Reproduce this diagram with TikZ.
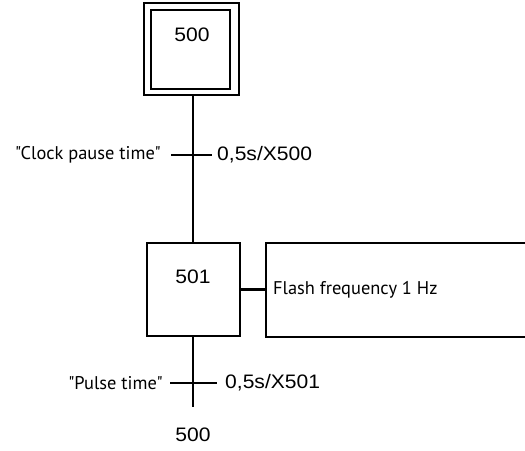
\documentclass[tikz,border=0pt]{standalone}
\usepackage{fontspec}
\setmainfont{Liberation Sans}
\newfontfamily\numfont[FakeStretch=1.08]{Liberation Sans}
\newfontfamily\dinfont{PT Sans}
\begin{document}
\begin{tikzpicture}[x=1pt,y=-1pt,
  ln/.style={line width=2.4pt},
  stepbox/.style={draw,line width=2.4pt,rectangle,inner sep=0pt},
  num/.style={font=\numfont\fontsize{19.5}{19.5}\selectfont,inner sep=0pt},
  din/.style={font=\dinfont\fontsize{18.4}{18.4}\selectfont,inner sep=0pt}]
\useasboundingbox (0,0) rectangle (525,450);
\clip (0,0) rectangle (525,450);
% initial step 500
\node[stepbox,minimum width=95pt,minimum height=92pt] (s500o) at (191.5,49) {};
\node[stepbox,minimum width=79pt,minimum height=79pt] (s500) at (190.5,49.5) {};
\node[num] (t500) at (192,35) {500};
% step 501
\node[stepbox,minimum width=93pt,minimum height=93pt] (s501) at (193.5,289.5) {};
\node[num] (t501) at (193,277) {501};
% action box
\node[stepbox,minimum width=300pt,minimum height=94pt,anchor=west] (act) at (265,290) {};
\node[din,anchor=west] (actt) at (273,290) {Flash frequency 1 Hz};
\draw[ln] (s501.east) -- (s501.east -| act.west);
% links
\draw[ln] (s500o.south -| 193,0) -- (s501.north -| 193,0);
\coordinate (tr1l) at (171,155);
\coordinate (tr1r) at (212,155);
\draw[ln] (tr1l) -- (tr1r);
\node[din,anchor=east] (c1) at (161,155) {"Clock pause time"};
\node[num,anchor=west] (r1) at (217,155) {0,5s/X500};
\coordinate (endl) at (193,407);
\draw[ln] (s501.south -| 193,0) -- (endl);
\coordinate (tr2l) at (170,383);
\coordinate (tr2r) at (217,383);
\draw[ln] (tr2l) -- (tr2r);
\node[din,anchor=east] (c2) at (163,383) {"Pulse time"};
\node[num,anchor=west] (r2) at (225,383) {0,5s/X501};
\node[num] (next) at (193,435) {500};
\end{tikzpicture}
\end{document}
